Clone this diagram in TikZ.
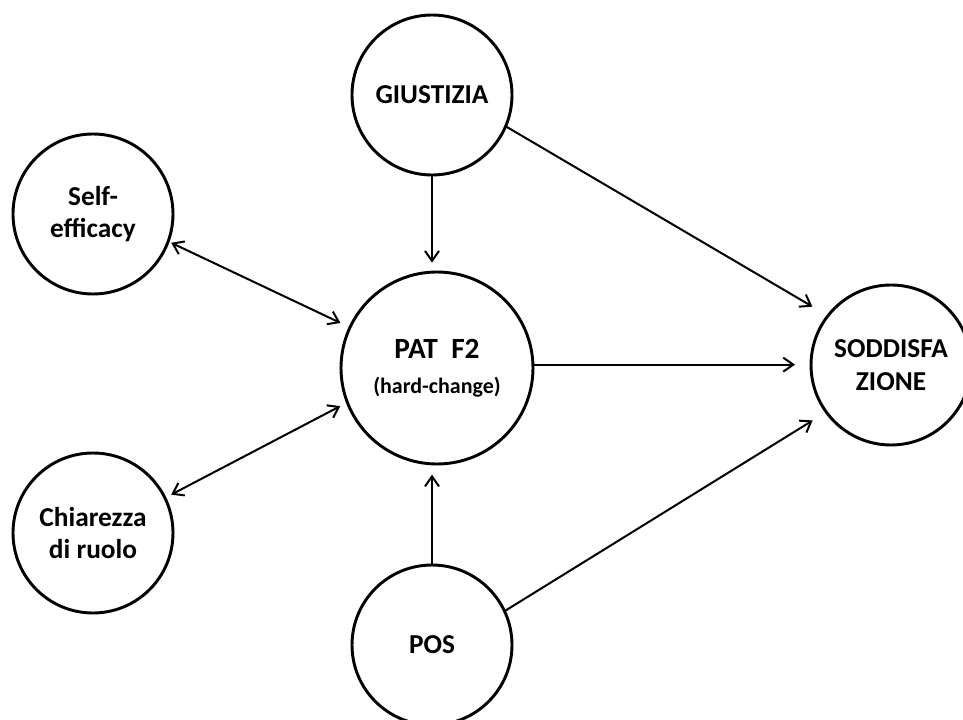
\documentclass[tikz,border=0pt]{standalone}
\usepackage{fontspec}
\setmainfont{Carlito}
\usetikzlibrary{arrows.meta}
\begin{document}
\begin{tikzpicture}[x=0.75pt,y=-0.75pt,
  var/.style={circle, draw, line width=2.2pt, outer sep=0pt, inner sep=0pt,
    minimum size=120pt, align=center,
    font=\bfseries\fontsize{20.5}{24.5}\selectfont},
  big/.style={minimum size=144pt},
  barb/.tip={Straight Barb[length=7.5pt,width=10.5pt,line width=1.5pt]},
  link/.style={line width=1.5pt, -barb},
  both/.style={line width=1.5pt, barb-barb}
]
\useasboundingbox (0,0) rectangle (963,720);

% variables
\node[var] (giu) at (432,95) {GIUSTIZIA};
\node[var] (self) at (93,214) {Self-\\efficacy};
\node[var,big] (pat) at (437,368) {\fontsize{22}{22}\selectfont PAT\ \ F2\\[1.5pt]{\fontsize{16.5}{18}\selectfont (hard-change)}};
\node[var] (sod) at (891,365) {SODDISFA\\ZIONE};
\node[var] (chi) at (93,533) {Chiarezza\\di ruolo};
\node[var] (pos) at (432,645) {POS};

% paths
\draw[link, shorten >=7pt] (giu.south) -- (giu.south |- pat.north);
\draw[link, shorten >=13.5pt] (giu.-23.7) -- (sod.142.3);
\draw[both, shorten <=2.5pt, shorten >=7.9pt] (self.-20.6) -- (pat.155.7);
\draw[both, shorten <=5.3pt, shorten >=6pt] (chi.26.2) -- (pat.-159.7);
\draw[link, shorten >=12pt] (pat.2.4) -- (pat.2.4 -| sod.west);
\draw[link, shorten >=8pt] (pos.north) -- (pos.north |- pat.south);
\draw[link, shorten >=12pt] (pos.25.6) -- (sod.216.5);
\end{tikzpicture}
\end{document}
